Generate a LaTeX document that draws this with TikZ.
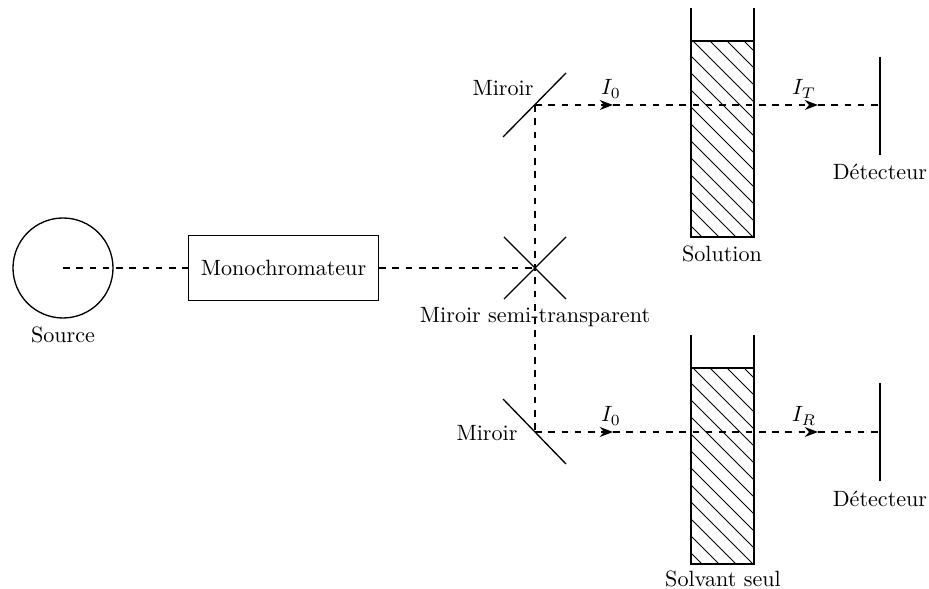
\documentclass[tikz,border=0pt]{standalone}
\usetikzlibrary{arrows.meta}
\usetikzlibrary{positioning}
\begin{document}
\begin{tikzpicture}[
	x=0.0159cm,
	y=-0.0159cm,
	semithick
]
\tikzset{
    beam/.style = {dashed},
    beamtip/.style = {dashed,-{Stealth[length=6pt,width=4.5pt]}},
    lbl/.style = {inner sep=1pt},
    hatch/.style = {thin}
}
\useasboundingbox (0,0) rectangle (929,589);
% source et monochromateur
\node[circle,draw,minimum size=1.59cm] at (63,268) (src) {};
\node[below=0pt of src] (srcl) {Source};
\node[draw,minimum width=3.02cm,minimum height=1.03cm] at (283.5,268) (mono) {Monochromateur};
%
\coordinate (bs) at (535,268);
\coordinate (m1) at (535,105);
\coordinate (m2) at (535,432);
\coordinate (a1) at (613,105);
\coordinate (b1) at (818,105);
\coordinate (d1) at (880,105);
\coordinate (a2) at (613,432);
\coordinate (b2) at (818,432);
\coordinate (d2) at (880,432);
%
\draw[beam] (src.center) -- (mono.west);
\draw[beam] (mono.east) -- (bs);
\draw[beam] (m1) -- (m2);
% miroirs
\draw (bs) ++(-31,-31) -- ++(62,62);
\draw (bs) ++(-31,31) -- ++(62,-62);
\draw (m1) ++(-32,32) -- ++(63,-64);
\draw (m2) ++(-32,-33) -- ++(63,65);
\node[lbl] at (503,88) (mir1) {Miroir};
\node[lbl] at (487,433) (mir2) {Miroir};
\node[lbl] at (535,317) (semi) {Miroir semi-transparent};
% faisceaux
\draw[beamtip] (m1) -- (a1);
\draw[beamtip] (a1) -- (b1);
\draw[beam] (b1) -- (d1);
\draw[beamtip] (m2) -- (a2);
\draw[beamtip] (a2) -- (b2);
\draw[beam] (b2) -- (d2);
\node[lbl] at (611,89) (i01) {$I_0$};
\node[lbl] at (804,89) (it) {$I_T$};
\node[lbl] at (611,416) (i02) {$I_0$};
\node[lbl] at (804,416) (ir) {$I_R$};
% cuves
\draw (691,8) -- (691,237) -- (754,237) -- (754,8);
\draw (691,41) -- (754,41);
\begin{scope}
\clip (691,41) rectangle (754,237);
\foreach \k in {-13,...,4}
    \draw[hatch] ({693+17*\k},41) -- ++(250,250);
\end{scope}
\node[lbl] at (722,254) (sol) {Solution};
%
\draw (691,335) -- (691,564) -- (754,564) -- (754,335);
\draw (691,368) -- (754,368);
\begin{scope}
\clip (691,368) rectangle (754,564);
\foreach \k in {-13,...,4}
    \draw[hatch] ({693+17*\k},368) -- ++(250,250);
\end{scope}
\node[lbl] at (723,579) (solv) {Solvant seul};
% detecteurs
\draw (d1) ++(0,-48) -- ++(0,98);
\draw (d2) ++(0,-49) -- ++(0,98);
\node[lbl] at (880,172) (det1) {Détecteur};
\node[lbl] at (880,499) (det2) {Détecteur};
\end{tikzpicture}
\end{document}
